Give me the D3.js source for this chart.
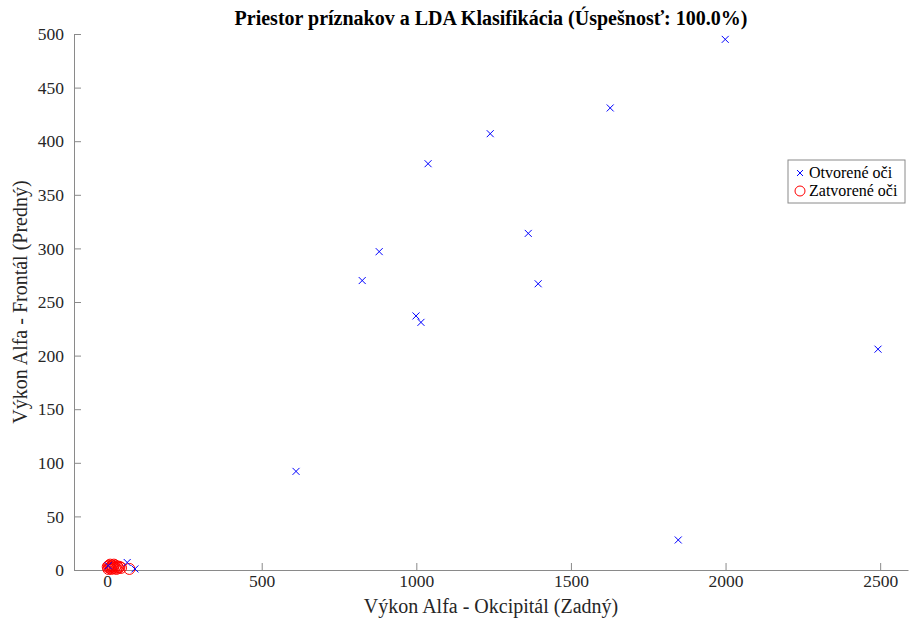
<!DOCTYPE html>
<html>
<head>
<meta charset="utf-8">
<script src="https://cdn.jsdelivr.net/npm/d3@7"></script>
<style>
  body { margin: 0; background: #fff; }
  svg text { font-family: "Liberation Serif", "Times New Roman", serif; }
</style>
</head>
<body>
<div id="viz"></div>
<script>
// open eyes (blue x)
const openX = [611, 825, 880, 999, 1015, 1038, 1239, 1362, 1394, 1627, 1847, 1999, 2493, 4, 65, 90];
const openY = [92, 270, 297, 237, 231, 379, 407, 314, 267, 431, 28, 495, 206, 4, 7, 1];
// closed eyes (red o)
const closedX = [2, 4, 6, 8, 10, 12, 14, 16, 18, 20, 22, 25, 28, 30, 33, 36, 40, 45, 72];
const closedY = [3, 1, 4, 2, 5, 3, 1, 4, 2, 3, 5, 2, 4, 1, 3, 2, 3, 2, 1];
const xTicks = [0, 500, 1000, 1500, 2000, 2500];
const yTicks = [0, 50, 100, 150, 200, 250, 300, 350, 400, 450, 500];
const legendLabels = ['Otvorené oči', 'Zatvorené oči'];

const svg = d3.select('#viz')
    .append('svg')
    .attr('width', 909)
    .attr('height', 622);

const margin = {top: 34, right: 1, bottom: 52, left: 74},
    width = 909 - margin.left - margin.right,
    height = 622 - margin.top - margin.bottom;

const x = d3.scaleLinear().domain([-107, 2590]).range([0, width]);
const y = d3.scaleLinear().domain([0, 500]).range([height, 0]);

const g = svg.append('g')
    .attr('transform', 'translate(' + margin.left + ',' + margin.top + ')');

const axisColor = '#8a8a8a';

const xAxis = g.append('g')
    .attr('transform', 'translate(0,' + height + ')')
    .call(d3.axisBottom(x).tickValues(xTicks).tickFormat(d3.format('d'))
        .tickSizeInner(-7).tickSizeOuter(0).tickPadding(5));
const yAxis = g.append('g')
    .call(d3.axisLeft(y).tickValues(yTicks).tickFormat(d3.format('d'))
        .tickSizeInner(-7).tickSizeOuter(0).tickPadding(10));

[xAxis, yAxis].forEach(function(a) {
    a.select('.domain').attr('stroke', axisColor);
    a.selectAll('.tick line').attr('stroke', axisColor);
    a.selectAll('.tick text')
        .attr('fill', '#262626')
        .style('font-size', '17.5px');
});

// closed eyes circles
g.selectAll('circle.closed')
    .data(closedX)
    .enter().append('circle')
    .attr('class', 'closed')
    .attr('cx', function(d) { return x(d); })
    .attr('cy', function(d, i) { return y(closedY[i]); })
    .attr('r', 5.5)
    .attr('fill', 'none')
    .attr('stroke', '#ff0000')
    .attr('stroke-width', 1);

// open eyes crosses
const s = 3.5;
g.selectAll('path.open')
    .data(openX)
    .enter().append('path')
    .attr('class', 'open')
    .attr('transform', function(d, i) { return 'translate(' + x(d) + ',' + y(openY[i]) + ')'; })
    .attr('d', 'M' + (-s) + ',' + (-s) + 'L' + s + ',' + s + 'M' + (-s) + ',' + s + 'L' + s + ',' + (-s))
    .attr('stroke', '#0000ff')
    .attr('stroke-width', 1);

// title
svg.append('text')
    .attr('x', margin.left + width / 2)
    .attr('y', 25)
    .attr('text-anchor', 'middle')
    .style('font-size', '20px')
    .style('font-weight', 'bold')
    .attr('fill', '#000')
    .text('Priestor príznakov a LDA Klasifikácia (Úspešnosť: 100.0%)');

// axis labels
svg.append('text')
    .attr('x', margin.left + width / 2)
    .attr('y', 613)
    .attr('text-anchor', 'middle')
    .style('font-size', '20px')
    .attr('fill', '#262626')
    .text('Výkon Alfa - Okcipitál (Zadný)');

svg.append('text')
    .attr('transform', 'translate(27,' + (margin.top + height / 2) + ') rotate(-90)')
    .attr('text-anchor', 'middle')
    .style('font-size', '20px')
    .attr('fill', '#262626')
    .text('Výkon Alfa - Frontál (Predný)');

// legend
const leg = svg.append('g').attr('transform', 'translate(788,160)');
leg.append('rect')
    .attr('width', 117).attr('height', 43)
    .attr('fill', '#fff')
    .attr('stroke', '#8a8a8a')
    .attr('stroke-width', 1);
leg.append('path')
    .attr('transform', 'translate(12,13)')
    .attr('d', 'M-3,-3L3,3M-3,3L3,-3')
    .attr('stroke', '#0000ff');
leg.append('circle')
    .attr('cx', 12).attr('cy', 31).attr('r', 5)
    .attr('fill', 'none').attr('stroke', '#ff0000');
leg.selectAll('text.lab')
    .data(legendLabels)
    .enter().append('text')
    .attr('class', 'lab')
    .attr('x', 21)
    .attr('y', function(d, i) { return 18 + i * 18; })
    .style('font-size', '16px')
    .attr('fill', '#000')
    .text(function(d) { return d; });
</script>
</body>
</html>
